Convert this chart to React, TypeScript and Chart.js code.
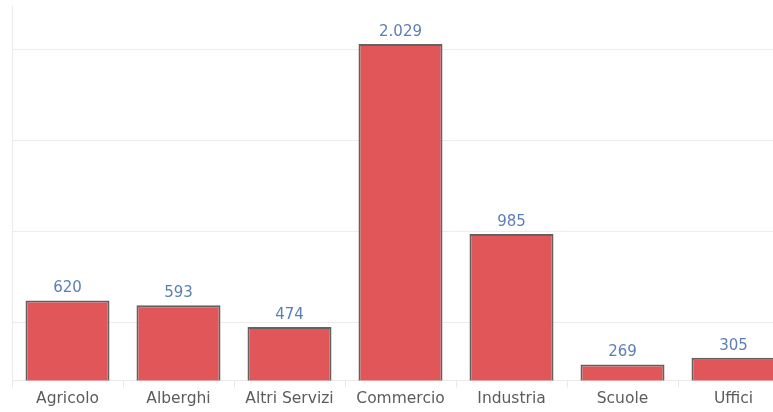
import React, { useEffect, useRef } from "react";
import { Chart, registerables } from "chart.js";

Chart.register(...registerables);

const categories = ["Agricolo", "Alberghi", "Altri Servizi", "Commercio", "Industria", "Scuole", "Uffici"];
const values = [620, 593, 474, 2029, 985, 269, 305];
const gridTicks = [500, 1000, 1500, 2000];

const fmt = (v: number) => String(Math.round(v)).replace(/\B(?=(\d{3})+(?!\d))/g, ".");

const FONT = "'DejaVu Sans', sans-serif";

const labelPlugin = {
  id: "barLabels",
  afterDatasetsDraw(chart: any) {
    const ctx = chart.ctx;
    const meta = chart.getDatasetMeta(0);
    ctx.save();
    ctx.font = `15px ${FONT}`;
    ctx.fillStyle = "#5b7fb5";
    ctx.textAlign = "center";
    ctx.textBaseline = "alphabetic";
    meta.data.forEach((el: any, i: number) => {
      ctx.fillText(fmt(values[i]), el.x, el.y - 8);
    });
    ctx.restore();
  },
};

export default function App() {
  const ref = useRef<HTMLCanvasElement | null>(null);
  useEffect(() => {
    if (!ref.current) return;
    const chart = new Chart(ref.current, {
      type: "bar",
      data: {
        labels: categories,
        datasets: [
          {
            data: values,
            backgroundColor: "#e15759",
            borderColor: "#626262",
            borderWidth: 2,
            barPercentage: 0.757,
            categoryPercentage: 1,
          },
        ],
      },
      options: {
        responsive: false,
        animation: false,
        layout: { padding: { left: 12, right: 11, top: 6, bottom: 2 } },
        plugins: { legend: { display: false }, tooltip: { enabled: false } },
        scales: {
          x: {
            grid: {
              offset: true,
              drawOnChartArea: false,
              drawTicks: true,
              tickLength: 7,
              color: "#e8e8e8",
            },
            border: { display: true, color: "#ebebeb", width: 1 },
            ticks: {
              color: "#5c5c5c",
              font: { family: FONT, size: 15.5 },
              padding: 2,
              maxRotation: 0,
              autoSkip: false,
            },
          },
          y: {
            min: 181,
            max: 2237,
            afterBuildTicks: (axis: any) => {
              axis.ticks = gridTicks.map((v) => ({ value: v }));
            },
            grid: { drawTicks: false, color: "#ececec", lineWidth: 1 },
            border: { display: true, color: "#ebebeb", width: 1 },
            ticks: { display: false },
          },
        },
      },
      plugins: [labelPlugin],
    });
    return () => chart.destroy();
  }, []);
  return (
    <div style={{ position: "fixed", left: 0, top: 0, width: 773, height: 412, overflow: "hidden", background: "#fff" }}>
      <canvas ref={ref} width={800} height={412} style={{ display: "block" }} />
    </div>
  );
}
